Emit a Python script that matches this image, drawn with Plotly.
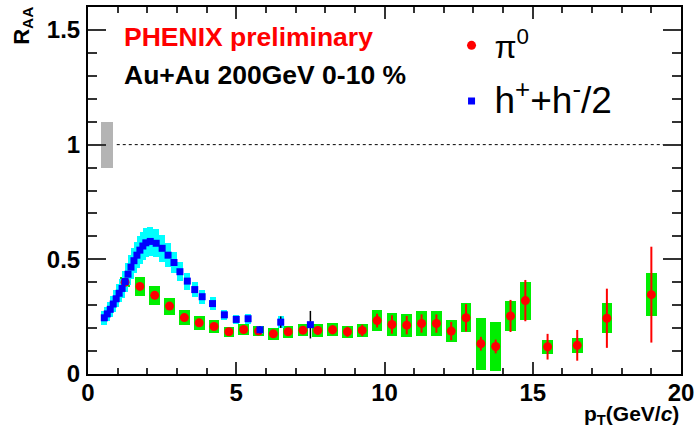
import plotly.graph_objects as go

# ---- charged hadrons (h+ + h-)/2 ----
pt_h = [0.55, 0.65, 0.75, 0.85, 0.95, 1.05, 1.15, 1.25, 1.35, 1.45, 1.55, 1.65, 1.75, 1.85, 1.95,
        2.1, 2.3, 2.5, 2.7, 2.9, 3.1, 3.35, 3.6, 3.85, 4.2, 4.6, 5.0, 5.4, 5.8, 6.5, 7.5]
raa_h = [0.245, 0.262, 0.282, 0.305, 0.328, 0.352, 0.373, 0.403, 0.435, 0.466, 0.494, 0.518, 0.540, 0.558, 0.572,
         0.578, 0.570, 0.548, 0.518, 0.486, 0.446, 0.405, 0.368, 0.337, 0.307, 0.258, 0.238, 0.241, 0.193, 0.226, 0.215]
sys_h = [0.030, 0.031, 0.033, 0.035, 0.037, 0.040, 0.042, 0.045, 0.049, 0.052, 0.055, 0.058, 0.060, 0.062, 0.064,
         0.064, 0.062, 0.058, 0.052, 0.047, 0.042, 0.037, 0.033, 0.030, 0.027, 0.022, 0.020, 0.022, 0.017, 0.025, 0.012]
stat_h = [0.002, 0.002, 0.002, 0.002, 0.002, 0.002, 0.002, 0.002, 0.002, 0.002, 0.002, 0.002, 0.002, 0.002, 0.002,
          0.003, 0.003, 0.003, 0.003, 0.003, 0.004, 0.004, 0.005, 0.005, 0.006, 0.008, 0.010, 0.012, 0.015, 0.025, 0.060]

# ---- pi0 ----
pt_pi = [1.25, 1.75, 2.25, 2.75, 3.25, 3.75, 4.25, 4.75, 5.25, 5.75, 6.25, 6.75, 7.25, 7.75, 8.25, 8.75,
         9.25, 9.75, 10.25, 10.75, 11.25, 11.75, 12.25, 12.75, 13.25, 13.75, 14.25, 14.75, 15.5, 16.5, 17.5, 19.0]
raa_pi = [0.400, 0.382, 0.343, 0.296, 0.246, 0.223, 0.207, 0.184, 0.194, 0.187, 0.175, 0.184, 0.191, 0.190, 0.193, 0.184,
          0.190, 0.233, 0.216, 0.213, 0.220, 0.220, 0.187, 0.245, 0.132, 0.120, 0.253, 0.320, 0.119, 0.125, 0.243, 0.346]
sys_pi = [0.022, 0.042, 0.040, 0.037, 0.034, 0.029, 0.027, 0.022, 0.023, 0.022, 0.027, 0.025, 0.027, 0.027, 0.028, 0.027,
          0.030, 0.044, 0.050, 0.050, 0.054, 0.056, 0.049, 0.063, 0.114, 0.105, 0.065, 0.083, 0.031, 0.033, 0.065, 0.093]
stat_pi = [0.010, 0.012, 0.012, 0.012, 0.012, 0.012, 0.012, 0.012, 0.013, 0.014, 0.015, 0.016, 0.017, 0.018, 0.020, 0.022,
           0.025, 0.030, 0.040, 0.040, 0.040, 0.040, 0.040, 0.060, 0.030, 0.030, 0.070, 0.090, 0.056, 0.067, 0.129, 0.209]

# ---- normalisation uncertainty box and unity reference ----
norm_pt = [0.64]
norm_val = [1.0]
norm_err = [0.1]
unity_x = [0.97, 20.0]
unity_y = [1.0, 1.0]

x_ticks = [0, 5, 10, 15, 20]
y_ticks = [0, 0.5, 1, 1.5]
y_tick_text = ["0", "0.5", "1", "1.5"]

FONT = "Liberation Sans, Arial, Helvetica, sans-serif"

fig = go.Figure()

# pi0 systematic boxes
fig.add_bar(x=pt_pi, y=[2 * s for s in sys_pi], base=[v - s for v, s in zip(raa_pi, sys_pi)],
            width=0.36, marker=dict(color="#00ee00", line=dict(width=0)),
            showlegend=False, hoverinfo="skip")
# hadron systematic boxes
fig.add_bar(x=pt_h, y=[2 * s for s in sys_h], base=[v - s for v, s in zip(raa_h, sys_h)],
            width=0.2, marker=dict(color="#00ffff", line=dict(width=0)),
            showlegend=False, hoverinfo="skip")
# normalisation box
fig.add_bar(x=norm_pt, y=[2 * e for e in norm_err], base=[v - e for v, e in zip(norm_val, norm_err)],
            width=0.4, marker=dict(color="#b4b4b4", line=dict(width=0)),
            showlegend=False, hoverinfo="skip")

# unity line
fig.add_scatter(x=unity_x, y=unity_y, mode="lines",
                line=dict(color="black", width=1, dash="3px,3px"),
                showlegend=False, hoverinfo="skip")

# pi0 points
fig.add_scatter(x=pt_pi, y=raa_pi, mode="markers", name="π<sup>0</sup>",
                marker=dict(symbol="circle", size=9, color="#ff0000"),
                error_y=dict(type="data", array=stat_pi, color="#ff0000", thickness=2, width=0),
                legendgroup="a")
# hadron points
fig.add_scatter(x=pt_h, y=raa_h, mode="markers",
                name="<span style='font-size:37px'>h<sup>+</sup>+h<sup>-</sup>/2</span>",
                marker=dict(symbol="square", size=7, color="#0000ff"),
                error_y=dict(type="data", array=stat_h, color="black", thickness=1.5, width=0),
                legendgroup="b")

fig.update_layout(
    width=699, height=429,
    margin=dict(l=88, r=11, t=5, b=55),
    paper_bgcolor="white", plot_bgcolor="white",
    barmode="overlay", bargap=0,
    font=dict(family=FONT, color="black"),
    legend=dict(x=0.608, y=0.970, xanchor="left", yanchor="top",
                font=dict(size=32, family=FONT, color="black"),
                bgcolor="rgba(0,0,0,0)", borderwidth=0, itemwidth=36,
                tracegroupgap=11, traceorder="grouped"),
    xaxis=dict(range=[0, 20], showgrid=False, zeroline=False,
               showline=True, linecolor="black", linewidth=2, mirror="ticks",
               ticks="inside", ticklen=12, tickwidth=1.5, tickcolor="#333",
               tickvals=x_ticks, ticktext=[str(v) for v in x_ticks],
               ticklabelstandoff=-4, ticklabeloverflow="allow",
               tickfont=dict(size=24, family=FONT, weight="bold"),
               minor=dict(dtick=1, ticks="inside", ticklen=6, tickwidth=1.5, tickcolor="#333", showgrid=False)),
    yaxis=dict(range=[0, 1.6], showgrid=False, zeroline=False,
               showline=True, linecolor="black", linewidth=2, mirror="ticks",
               ticks="inside", ticklen=18, tickwidth=1.5, tickcolor="#333",
               tickvals=y_ticks, ticktext=y_tick_text,
               ticklabelstandoff=1, ticklabeloverflow="allow",
               tickfont=dict(size=24, family=FONT, weight="bold"),
               minor=dict(dtick=0.1, ticks="inside", ticklen=9, tickwidth=1.5, tickcolor="#333", showgrid=False)),
)

fig.add_annotation(xref="paper", yref="paper", x=0.058, y=0.918, xanchor="left", yanchor="middle",
                   text="PHENIX preliminary", showarrow=False,
                   font=dict(size=26.5, family=FONT, color="#ff0000", weight="bold"))
fig.add_annotation(xref="paper", yref="paper", x=0.058, y=0.815, xanchor="left", yanchor="middle",
                   text="Au+Au 200GeV 0-10 %", showarrow=False,
                   font=dict(size=26.5, family=FONT, color="black", weight="bold"))
fig.add_annotation(xref="paper", yref="paper", x=-0.11, y=0.948, xanchor="center", yanchor="middle",
                   text="R<sub>AA</sub>", textangle=-90, showarrow=False,
                   font=dict(size=22, family=FONT, color="black", weight="bold"))
fig.add_annotation(xref="paper", yref="paper", x=1.0, y=-0.112, xanchor="right", yanchor="middle",
                   text="p<sub>T</sub>(GeV/<i>c</i>)", showarrow=False,
                   font=dict(size=21, family=FONT, color="black", weight="bold"))

fig.write_html("out.html", config={"displayModeBar": False},
               post_script="document.body.style.margin='0';document.body.style.overflow='hidden';")
